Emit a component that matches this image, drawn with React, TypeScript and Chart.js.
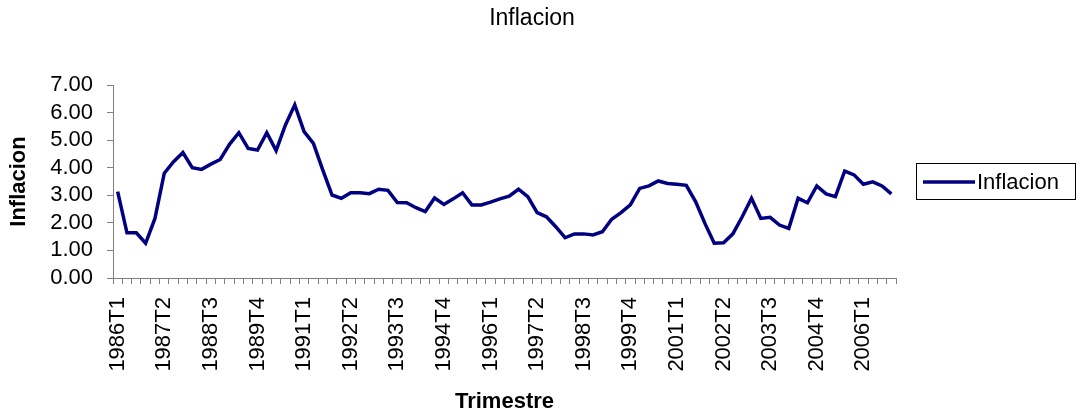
import React, { useEffect, useRef } from "react";
import { Chart, registerables } from "chart.js";

Chart.register(...registerables);

const chartTitle = "Inflacion";
const seriesLabel = "Inflacion";
const xTitle = "Trimestre";
const yTitle = "Inflacion";

const years = [
  1986, 1987, 1988, 1989, 1990, 1991, 1992, 1993, 1994, 1995, 1996,
  1997, 1998, 1999, 2000, 2001, 2002, 2003, 2004, 2005, 2006,
];
const quarters = ["T1", "T2", "T3", "T4"];
const categories: string[] = [];
years.forEach((y) => quarters.forEach((q) => categories.push(`${y}${q}`)));

const inflacion = [
  3.13, 1.64, 1.64, 1.26, 2.16, 3.8, 4.22, 4.55, 4.0, 3.94, 4.13, 4.3,
  4.85, 5.27, 4.7, 4.64, 5.27, 4.62, 5.55, 6.28, 5.31, 4.88, 3.92, 3.01,
  2.89, 3.09, 3.09, 3.06, 3.22, 3.18, 2.74, 2.73, 2.55, 2.41, 2.9, 2.67,
  2.87, 3.09, 2.65, 2.65, 2.75, 2.87, 2.97, 3.22, 2.95, 2.37, 2.22, 1.86,
  1.46, 1.6, 1.6, 1.56, 1.68, 2.13, 2.37, 2.65, 3.25, 3.34, 3.52, 3.43,
  3.4, 3.36, 2.77, 1.98, 1.26, 1.28, 1.6, 2.22, 2.89, 2.16, 2.2, 1.92,
  1.8, 2.89, 2.73, 3.34, 3.05, 2.95, 3.88, 3.74, 3.4, 3.49, 3.34, 3.05,
];

const FONT = "'Liberation Sans', Arial, sans-serif";
const LINE_COLOR = "#000080";
const AXIS_COLOR = "#808080";

const overlayPlugin = {
  id: "excelOverlay",
  afterDraw(chart: any) {
    const ctx = chart.ctx as CanvasRenderingContext2D;
    const area = chart.chartArea;
    ctx.save();
    // closing tick at right end of category axis
    ctx.strokeStyle = AXIS_COLOR;
    ctx.lineWidth = 1;
    ctx.beginPath();
    ctx.moveTo(Math.round(area.right) + 0.5, area.bottom);
    ctx.lineTo(Math.round(area.right) + 0.5, area.bottom + 6);
    ctx.stroke();
    // title
    ctx.fillStyle = "#000";
    ctx.font = `23px ${FONT}`;
    ctx.textAlign = "center";
    ctx.textBaseline = "middle";
    ctx.fillText(chartTitle, 532, 19);
    // legend
    const bx = 916.5, by = 163.5, bw = 159, bh = 36;
    ctx.strokeStyle = "#000";
    ctx.lineWidth = 1;
    ctx.strokeRect(bx, by, bw, bh);
    ctx.strokeStyle = LINE_COLOR;
    ctx.lineWidth = 3.5;
    ctx.beginPath();
    ctx.moveTo(923, 182);
    ctx.lineTo(975, 182);
    ctx.stroke();
    ctx.fillStyle = "#000";
    ctx.font = `22px ${FONT}`;
    ctx.textAlign = "left";
    ctx.textBaseline = "middle";
    ctx.fillText(seriesLabel, 977, 183);
    ctx.restore();
  },
};

export default function App() {
  const ref = useRef<HTMLCanvasElement>(null);
  useEffect(() => {
    document.body.style.margin = "0";
    const canvas = ref.current;
    if (!canvas) return;
    const chart = new Chart(canvas, {
      type: "line",
      data: {
        labels: categories,
        datasets: [
          {
            label: seriesLabel,
            data: inflacion,
            borderColor: LINE_COLOR,
            backgroundColor: LINE_COLOR,
            borderWidth: 3.5,
            pointRadius: 0,
            tension: 0,
            fill: false,
          },
        ],
      },
      options: {
        responsive: false,
        animation: false,
        devicePixelRatio: 1,
        layout: { padding: { left: 0, top: 85, right: 185, bottom: 0 } },
        plugins: {
          legend: { display: false },
          title: { display: false },
          tooltip: { enabled: false },
        },
        scales: {
          x: {
            type: "category",
            offset: true,
            grid: {
              offset: true,
              drawOnChartArea: false,
              drawTicks: true,
              tickLength: 6,
              color: AXIS_COLOR,
            },
            border: { display: true, color: AXIS_COLOR, width: 1 },
            ticks: {
              autoSkip: false,
              minRotation: 90,
              maxRotation: 90,
              padding: 13,
              color: "#000",
              font: { family: FONT, size: 22 },
              callback: (_v: any, i: number) => (i % 5 === 0 ? categories[i] : ""),
            },
            title: {
              display: true,
              text: xTitle,
              color: "#000",
              font: { family: FONT, size: 22, weight: "bold", lineHeight: 1 },
              padding: { top: 0, bottom: 3 },
            },
            afterFit: (s: any) => {
              s.height = 138;
            },
          },
          y: {
            min: 0,
            max: 7,
            grid: {
              drawOnChartArea: false,
              drawTicks: true,
              tickLength: 6,
              color: AXIS_COLOR,
            },
            border: { display: true, color: AXIS_COLOR, width: 1 },
            ticks: {
              stepSize: 1,
              autoSkip: false,
              padding: 14,
              color: "#000",
              font: { family: FONT, size: 22 },
              callback: (v: any) => Number(v).toFixed(2),
            },
            title: {
              display: true,
              text: yTitle,
              color: "#000",
              font: { family: FONT, size: 22, weight: "bold", lineHeight: 1 },
              padding: { top: 8, bottom: 0 },
            },
            afterFit: (s: any) => {
              s.width = 113;
            },
          },
        },
      },
      plugins: [overlayPlugin],
    } as any);
    return () => chart.destroy();
  }, []);
  return <canvas ref={ref} width={1081} height={416} style={{ display: "block" }} />;
}
